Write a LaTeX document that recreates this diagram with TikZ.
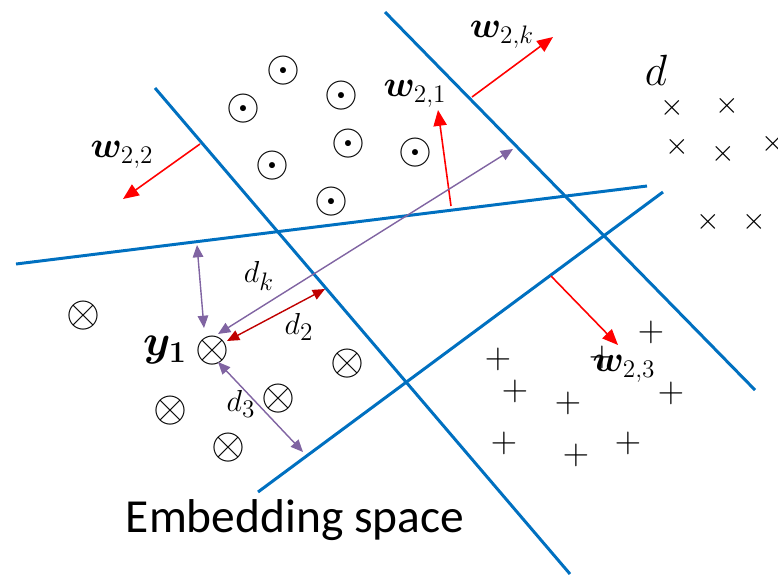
\documentclass[tikz,border=0pt]{standalone}
\usepackage{amsmath, amssymb, bm}
\usepackage{fontspec}
\setsansfont{Carlito}
\usepackage{tikz}
\usetikzlibrary{arrows.meta}

\definecolor{hypblue}{RGB}{0,112,192}
\definecolor{distpurple}{RGB}{128,100,162}
\definecolor{distred}{RGB}{192,0,0}

\tikzset{
  hyperplane/.style={hypblue, line width=1.7pt},
  wvec/.style={red, line width=0.9pt, -{Triangle[length=9pt, width=7.5pt]}},
  dist/.style={distpurple, line width=0.8pt, {Triangle[length=7pt, width=6pt]}-{Triangle[length=7pt, width=6pt]}},
  pt/.style={inner sep=0pt, font=\fontsize{25}{25}\selectfont},
  ptx/.style={inner sep=0pt, font=\fontsize{19}{19}\selectfont},
  ptp/.style={inner sep=0pt, font=\fontsize{21}{21}\selectfont},
  lbl/.style={inner sep=0pt, font=\fontsize{21}{24}\selectfont}
}

\begin{document}
\begin{tikzpicture}[x=0.02cm, y=-0.02cm]
  \useasboundingbox (0,0) rectangle (778,576);

  % hyperplanes (end points in pixels, y downwards)
  \coordinate (hA1) at (155,88);  \coordinate (hA2) at (570,574);
  \coordinate (hB1) at (385,12);  \coordinate (hB2) at (755,390);
  \coordinate (hC1) at (16,264);  \coordinate (hC2) at (647,186);
  \coordinate (hD1) at (258,492); \coordinate (hD2) at (663,192);
  \draw[hyperplane] (hA1) -- (hA2);
  \draw[hyperplane] (hB1) -- (hB2);
  \draw[hyperplane] (hC1) -- (hC2);
  \draw[hyperplane] (hD1) -- (hD2);

  % class 1: circled dots
  \foreach \n/\x/\y in {1/283/71, 2/243/109, 3/341/96, 4/348/144,
                        5/272/166, 6/331/202, 7/415/153} {
    \node[pt] (o\n) at (\x,\y) {$\odot$};
  }
  % class y1: circled crosses
  \node[pt] (y1) at (212,351) {$\otimes$};
  \foreach \n/\x/\y in {2/83/316, 3/347/364, 4/278/399, 5/170/411, 6/228/448} {
    \node[pt] (t\n) at (\x,\y) {$\otimes$};
  }
  % class d: crosses
  \foreach \n/\x/\y in {1/672/108, 2/727/106, 3/677/147, 4/723/154,
                        5/773/144, 6/708/222, 7/754/222} {
    \node[ptx] (x\n) at (\x,\y) {$\times$};
  }
  % class 3: pluses
  \foreach \n/\x/\y in {1/651/332, 2/498/359, 3/602/357, 4/515/391, 5/568/403,
                        6/671/393, 7/504/443, 8/576/455, 9/628/443} {
    \node[ptp] (p\n) at (\x,\y) {$+$};
  }

  % normal vectors
  \coordinate (w22s) at (200,144); \coordinate (w22e) at (123,199);
  \coordinate (w21s) at (451,206); \coordinate (w21e) at (438,110);
  \coordinate (w2ks) at (472,97);  \coordinate (w2ke) at (553,37);
  \coordinate (w23s) at (551,276); \coordinate (w23e) at (618,345);
  \draw[wvec] (w22s) -- (w22e);
  \draw[wvec] (w21s) -- (w21e);
  \draw[wvec] (w2ks) -- (w2ke);
  \draw[wvec] (w23s) -- (w23e);
  \node[lbl] (lw22) at (122,155) {$\bm{w}_{2,2}$};
  \node[lbl] (lw21) at (415,94)  {$\bm{w}_{2,1}$};
  \node[lbl] (lw2k) at (502,35)  {$\bm{w}_{2,k}$};
  \node[lbl] (lw23) at (624,369) {$\bm{w}_{2,3}$};

  % distances from y1 to the hyperplanes
  \coordinate (fC) at (197,245);
  \coordinate (fk) at (513,149);
  \coordinate (f2) at (325,289);
  \coordinate (f3) at (303,452);
  \draw[dist] ([shift={(-8,-23)}]y1.center) -- (fC);
  \draw[dist] ([shift={(6,-17)}]y1.center) -- (fk);
  \draw[dist, distred] ([shift={(15,-10)}]y1.center) -- (f2);
  \draw[dist] ([shift={(6,11)}]y1.center) -- (f3);
  \node[lbl, font=\fontsize{19}{21}\selectfont] (ldk) at (259,276) {$d_k$};
  \node[lbl, font=\fontsize{19}{21}\selectfont] (ld2) at (299,327) {$d_2$};
  \node[lbl, font=\fontsize{19}{21}\selectfont] (ld3) at (241,404) {$d_3$};
  \node[lbl, font=\fontsize{24}{26}\selectfont] (ly1) at (165,350) {$\bm{y_1}$};
  \node[lbl, font=\fontsize{23}{25}\selectfont] (ld) at (656,70) {$d$};

  \node[inner sep=0pt, font=\sffamily\fontsize{27}{30}\selectfont] (title) at (295,520) {Embedding space};
\end{tikzpicture}
\end{document}
